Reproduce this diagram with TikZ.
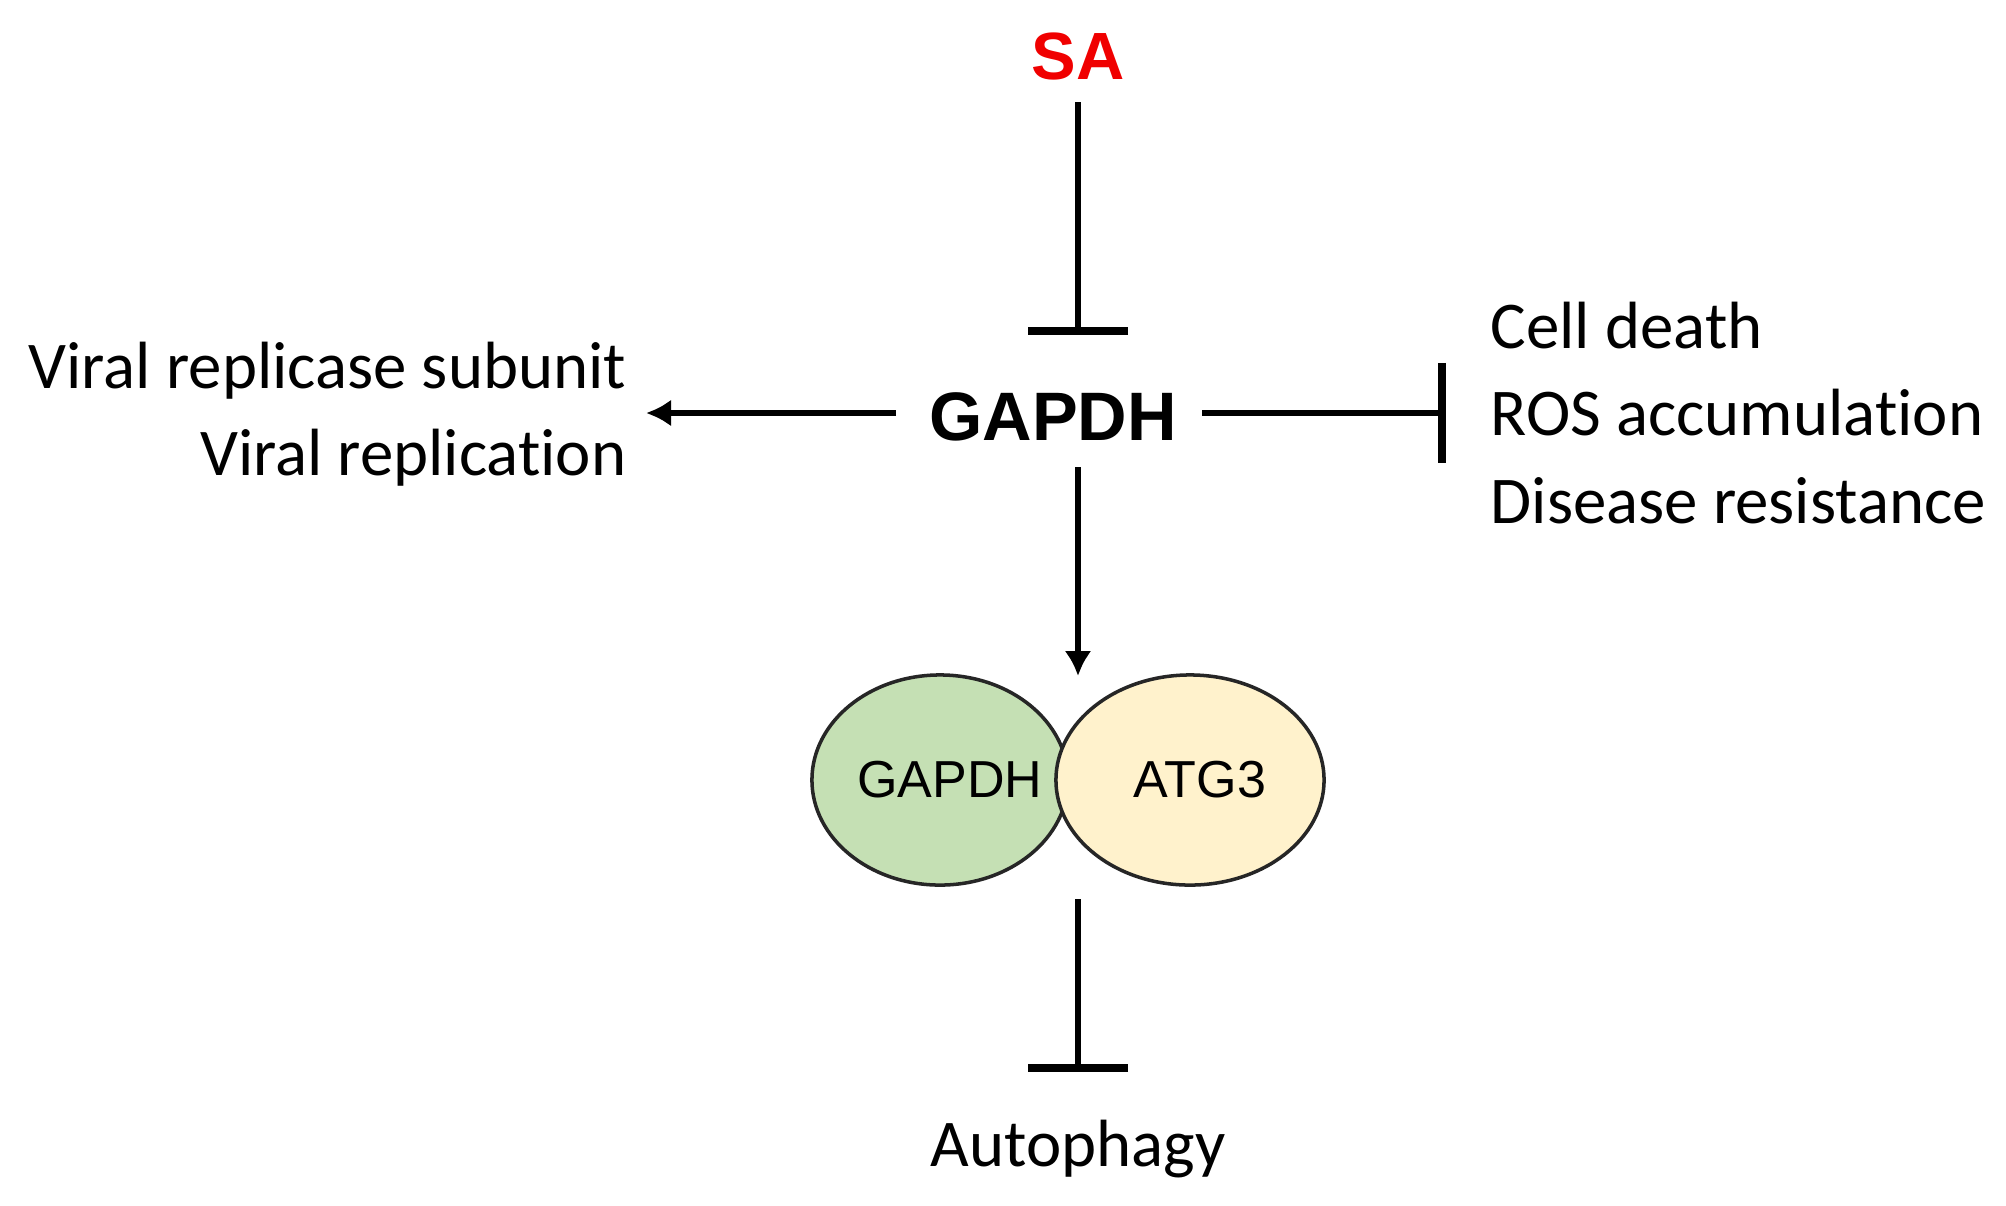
\documentclass[tikz,border=0pt]{standalone}
\usepackage{fontspec}
\setmainfont[Ligatures=NoCommon]{Carlito}
\newfontfamily\arialfont{Liberation Sans}
\usetikzlibrary{arrows.meta,shapes.geometric}
\definecolor{gfill}{RGB}{197,224,180}
\definecolor{yfill}{RGB}{255,242,204}
\definecolor{sared}{RGB}{240,0,0}
\begin{document}
\begin{tikzpicture}[x=0.01cm,y=-0.01cm,
  lbl/.style={font=\fontsize{19}{24.8}\selectfont, inner sep=0pt},
  act/.style={line width=1.6pt, -{Latex[length=0.25cm,width=0.27cm]}},
  inh/.style={line width=1.5pt, -{Bar[width=1.0cm,line width=2.4pt]}},
  blob/.style={ellipse, draw=black!85, line width=1pt, minimum height=2.1cm, inner sep=0pt, font=\arialfont\fontsize{14.8}{17}\selectfont}
]
\useasboundingbox[fill=white] (0,0) rectangle (2006,1205);
\node[font=\arialfont\bfseries\fontsize{19}{22}\selectfont, text=sared, inner sep=0pt] (SA) at (1078,56) {SA};
\node[font=\arialfont\bfseries\fontsize{19.5}{22}\selectfont, inner sep=0pt] (G) at (1053,417) {GAPDH};
\node[lbl, align=right, anchor=east] (L) at (627,414) {Viral replicase subunit\\Viral replication};
\node[lbl, align=left, anchor=west] (R) at (1490,413) {Cell death\\ROS accumulation\\Disease resistance};
\node[blob, fill=gfill, minimum width=2.56cm] (E1) at (940,780) {\makebox[0pt]{\hspace*{0.2cm}GAPDH}};
\node[blob, fill=yfill, minimum width=2.68cm] (E2) at (1190,780) {\makebox[0pt]{\hspace*{0.2cm}ATG3}};
\node[lbl] (AU) at (1078,1149) {Autophagy};
% connector end points
\coordinate (s1) at (1078,102);
\coordinate (s2) at (1078,335);
\coordinate (l1) at (896,413);
\coordinate (l2) at (646,413);
\coordinate (r1) at (1202,413);
\coordinate (r2) at (1446,413);
\coordinate (d1) at (1078,467);
\coordinate (d2) at (1078,676);
\coordinate (b1) at (1078,899);
\coordinate (b2) at (1078,1072);
\draw[inh] (s1) -- (s2);
\draw[act] (l1) -- (l2);
\draw[inh] (r1) -- (r2);
\draw[act] (d1) -- (d2);
\draw[inh] (b1) -- (b2);
\end{tikzpicture}
\end{document}
